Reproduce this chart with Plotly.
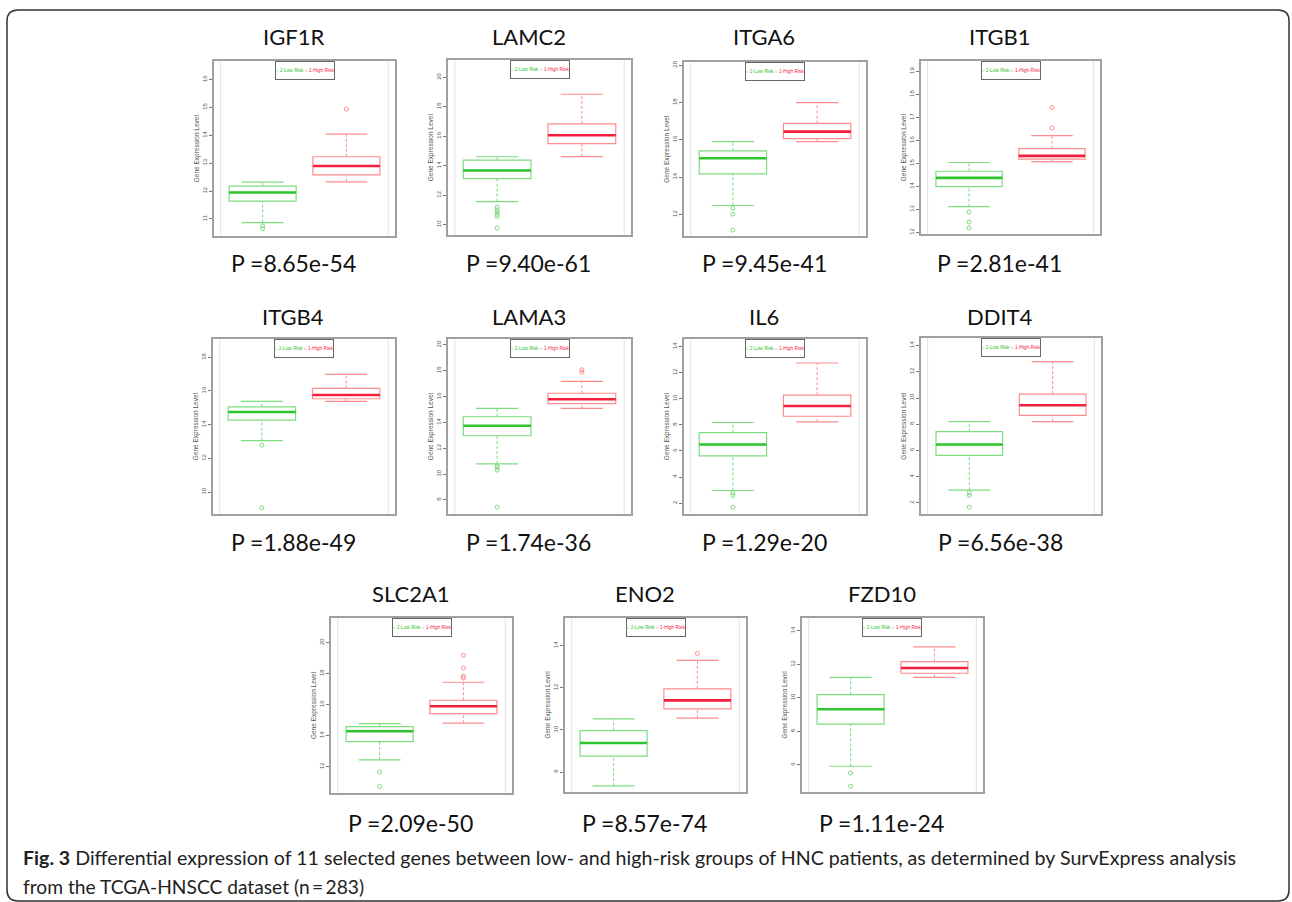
import plotly.graph_objects as go

W, H = 1292, 902

# ---------------- data ----------------
genes = ["IGF1R", "LAMC2", "ITGA6", "ITGB1", "ITGB4", "LAMA3", "IL6", "DDIT4",
         "SLC2A1", "ENO2", "FZD10"]
p_values = ["8.65e-54", "9.40e-61", "9.45e-41", "2.81e-41", "1.88e-49", "1.74e-36",
            "1.29e-20", "6.56e-38", "2.09e-50", "8.57e-74", "1.11e-24"]

# group "2-Low Risk"
low_lower = [10.87, 11.56, 12.48, 13.12, 13.06, 10.79, 2.97, 2.97, 12.43, 7.34, 5.92]
low_q1 = [11.64, 13.12, 14.18, 13.99, 14.27, 12.97, 5.62, 5.62, 13.61, 8.75, 8.43]
low_median = [11.95, 13.68, 15.01, 14.37, 14.75, 13.74, 6.49, 6.45, 14.28, 9.38, 9.32]
low_q3 = [12.18, 14.38, 15.41, 14.66, 15.06, 14.44, 7.41, 7.43, 14.58, 9.97, 10.20]
low_upper = [12.32, 14.61, 15.90, 15.04, 15.38, 15.08, 8.18, 8.20, 14.77, 10.52, 11.22]
low_outliers = [[10.75, 10.65], [11.2, 11.0, 10.86, 10.7, 10.56, 9.77], [12.34, 12.02, 11.16],
                [12.88, 12.45, 12.19], [12.78, 9.07], [10.64, 10.51, 10.31, 7.44],
                [2.79, 2.59, 1.69], [2.78, 2.58, 1.67], [11.64, 10.71], [], [5.52, 4.73]]

# group "1-High Risk"
high_lower = [12.33, 14.62, 15.90, 15.08, 15.38, 15.08, 8.23, 8.20, 14.80, 10.56, 11.22]
high_q1 = [12.58, 15.50, 16.07, 15.19, 15.54, 15.46, 8.66, 8.68, 15.42, 11.00, 11.47]
high_median = [12.90, 16.07, 16.44, 15.33, 15.76, 15.79, 9.44, 9.45, 15.89, 11.40, 11.78]
high_q3 = [13.23, 16.84, 16.88, 15.64, 16.15, 16.26, 10.28, 10.30, 16.28, 11.95, 12.16]
high_upper = [14.04, 18.85, 18.00, 16.21, 16.99, 17.18, 12.74, 12.77, 17.44, 13.30, 13.05]
high_outliers = [[14.94], [], [], [16.54, 17.43], [], [18.08, 17.90], [], [],
                 [17.72, 17.83, 18.37, 19.18], [13.63], []]

# y-axis ranges and tick values per panel
y_ranges = [[10.37, 16.67], [9.27, 21.18], [10.82, 20.18], [11.91, 19.46],
            [8.71, 19.07], [6.92, 20.44], [1.18, 14.56], [1.16, 14.56],
            [10.28, 21.61], [7.04, 15.33], [4.37, 14.79]]
y_ticks = [[11, 12, 13, 14, 15, 16], [10, 12, 14, 16, 18, 20], [12, 14, 16, 18, 20],
           [12, 13, 14, 15, 16, 17, 18, 19], [10, 12, 14, 16, 18], [8, 10, 12, 14, 16, 18, 20],
           [2, 4, 6, 8, 10, 12, 14], [2, 4, 6, 8, 10, 12, 14], [12, 14, 16, 18, 20],
           [8, 10, 12, 14], [6, 8, 10, 12, 14]]

legend_labels = ["2-Low Risk", "1-High Risk"]
caption_bold = "Fig. 3"
caption_line1 = (" Differential expression of 11 selected genes between low- and high-risk groups "
                 "of HNC patients, as determined by SurvExpress analysis")
caption_line2 = "from the TCGA-HNSCC dataset (n\u2009=\u2009283)"

# ---------------- layout geometry (pixels) ----------------
panels_px = [(214, 395, 59, 235), (448, 631, 58, 234), (684, 866, 60, 235), (921, 1100, 59, 233),
             (213, 395, 338, 513), (448, 631, 338, 513), (684, 866, 338, 513), (921, 1101, 337, 513),
             (331, 512, 617, 793), (565, 746, 617, 792), (802, 983, 617, 792)]
rows = [0, 0, 0, 0, 1, 1, 1, 1, 2, 2, 2]
title_y = [35, 315, 593]
pval_y = [262, 541, 823]

GREEN_LINE = "#7ddc7d"
GREEN_MED = "#2ec42e"
RED_LINE = "#ff8c8c"
RED_MED = "#f2203c"
FRAME = "#a0a0a0"
BOX_W = 0.8
CAP_W = 0.25

fig = go.Figure()
layout_axes = {}
shapes = []
annotations = []


def px_x(v):
    return v / W


def px_y(v):
    return 1 - v / H


for i, gene in enumerate(genes):
    n = i + 1
    xa = "x" if n == 1 else f"x{n}"
    ya = "y" if n == 1 else f"y{n}"
    l, r, t, b = panels_px[i]
    layout_axes[f"xaxis{'' if n == 1 else n}"] = dict(
        domain=[px_x(l), px_x(r)], range=[0.42, 2.58], anchor=ya,
        showticklabels=False, ticks="", showgrid=False, zeroline=False,
        showline=True, mirror=True, linecolor=FRAME, linewidth=1.6)
    layout_axes[f"yaxis{'' if n == 1 else n}"] = dict(
        domain=[px_y(b), px_y(t)], range=y_ranges[i], anchor=xa,
        tickvals=y_ticks[i], ticks="outside", ticklen=3, tickwidth=1, tickcolor="#777",
        tickangle=-90, tickfont=dict(size=6, color="#555", family="Liberation Sans"),
        showgrid=False, zeroline=False, showline=True, mirror=True,
        linecolor=FRAME, linewidth=1.6,
        title=dict(text="Gene Expression Level", standoff=2,
                   font=dict(size=6.5, color="#555", family="Liberation Sans")))

    groups = [
        (1, low_lower[i], low_q1[i], low_median[i], low_q3[i], low_upper[i], low_outliers[i],
         GREEN_LINE, GREEN_MED),
        (2, high_lower[i], high_q1[i], high_median[i], high_q3[i], high_upper[i], high_outliers[i],
         RED_LINE, RED_MED),
    ]
    for (xc, lo, q1, med, q3, up, outs, lc, mc) in groups:
        fig.add_trace(go.Box(x=[xc], q1=[q1], median=[med], q3=[q3], lowerfence=[q1],
                             upperfence=[q3], width=BOX_W, fillcolor="rgba(255,255,255,0)",
                             line=dict(color=lc, width=1.2), boxpoints=False,
                             xaxis=xa, yaxis=ya, showlegend=False, hoverinfo="skip"))
        # dashed whiskers
        fig.add_trace(go.Scatter(x=[xc, xc, None, xc, xc], y=[q3, up, None, lo, q1],
                                 mode="lines", line=dict(color=lc, width=1, dash="3px,2px"),
                                 xaxis=xa, yaxis=ya, showlegend=False, hoverinfo="skip"))
        # staples
        fig.add_trace(go.Scatter(x=[xc - CAP_W, xc + CAP_W, None, xc - CAP_W, xc + CAP_W],
                                 y=[up, up, None, lo, lo], mode="lines",
                                 line=dict(color=lc, width=1.2),
                                 xaxis=xa, yaxis=ya, showlegend=False, hoverinfo="skip"))
        # median
        fig.add_trace(go.Scatter(x=[xc - BOX_W / 2, xc + BOX_W / 2], y=[med, med], mode="lines",
                                 line=dict(color=mc, width=2.6),
                                 xaxis=xa, yaxis=ya, showlegend=False, hoverinfo="skip"))
        if outs:
            fig.add_trace(go.Scatter(x=[xc] * len(outs), y=outs, mode="markers",
                                     marker=dict(symbol="circle-open", size=4, color=lc,
                                                 line=dict(width=1, color=lc)),
                                     xaxis=xa, yaxis=ya, showlegend=False, hoverinfo="skip"))

    # faint vertical lines at the x limits of the boxplot
    for xv in (0.5, 2.5):
        shapes.append(dict(type="line", xref=xa, yref=f"{ya} domain", x0=xv, x1=xv, y0=0, y1=1,
                           line=dict(color="#e3e3e3", width=1), layer="below"))

    # in-panel legend box
    annotations.append(dict(
        xref=f"{xa} domain", yref=f"{ya} domain", x=0.5, y=1, xanchor="center", yanchor="top",
        text=(f"<span style='color:#2ec42e'>\u25cb {legend_labels[0]}</span> "
              f"<span style='color:#f2203c'>\u25cb {legend_labels[1]}</span>"),
        font=dict(size=4.8, family="Liberation Sans Narrow, Liberation Sans"),
        showarrow=False, bgcolor="white", bordercolor="#666", borderwidth=1,
        borderpad=0, width=58, height=17))

    cx = (l + r) / 2 - 11
    annotations.append(dict(xref="paper", yref="paper", x=px_x(cx), y=px_y(title_y[rows[i]]),
                            xanchor="center", yanchor="middle", text=gene, showarrow=False,
                            font=dict(size=22, color="#111", family="Lato")))
    annotations.append(dict(xref="paper", yref="paper", x=px_x(cx), y=px_y(pval_y[rows[i]]),
                            xanchor="center", yanchor="middle", text=f"P ={p_values[i]}",
                            showarrow=False, font=dict(size=23, color="#111", family="Lato")))

# caption
annotations.append(dict(xref="paper", yref="paper", x=px_x(21), y=px_y(857), xanchor="left",
                        yanchor="middle", showarrow=False,
                        text=f"<b>{caption_bold}</b>{caption_line1}",
                        font=dict(size=19.6, color="#222", family="Lato")))
annotations.append(dict(xref="paper", yref="paper", x=px_x(21), y=px_y(886), xanchor="left",
                        yanchor="middle", showarrow=False, text=caption_line2,
                        font=dict(size=19.2, color="#222", family="Lato")))

# outer rounded frame
L, T, R, B, rad = 7, 8, 1289, 901, 11
path = (f"M {px_x(L)},{px_y(T + rad)} Q {px_x(L)},{px_y(T)} {px_x(L + rad)},{px_y(T)} "
        f"L {px_x(R - rad)},{px_y(T)} Q {px_x(R)},{px_y(T)} {px_x(R)},{px_y(T + rad)} "
        f"L {px_x(R)},{px_y(B - rad)} Q {px_x(R)},{px_y(B)} {px_x(R - rad)},{px_y(B)} "
        f"L {px_x(L + rad)},{px_y(B)} Q {px_x(L)},{px_y(B)} {px_x(L)},{px_y(B - rad)} Z")
shapes.append(dict(type="path", xref="paper", yref="paper", path=path,
                   line=dict(color="#333", width=1.5)))

fig.update_layout(
    width=W, height=H, margin=dict(l=0, r=0, t=0, b=0),
    paper_bgcolor="white", plot_bgcolor="white", showlegend=False,
    shapes=shapes, annotations=annotations, boxmode="overlay",
    **layout_axes)

fig.write_html("out.html", config={"displayModeBar": False},
               post_script="document.body.style.margin='0px';"
                           "document.body.style.overflow='hidden';")
